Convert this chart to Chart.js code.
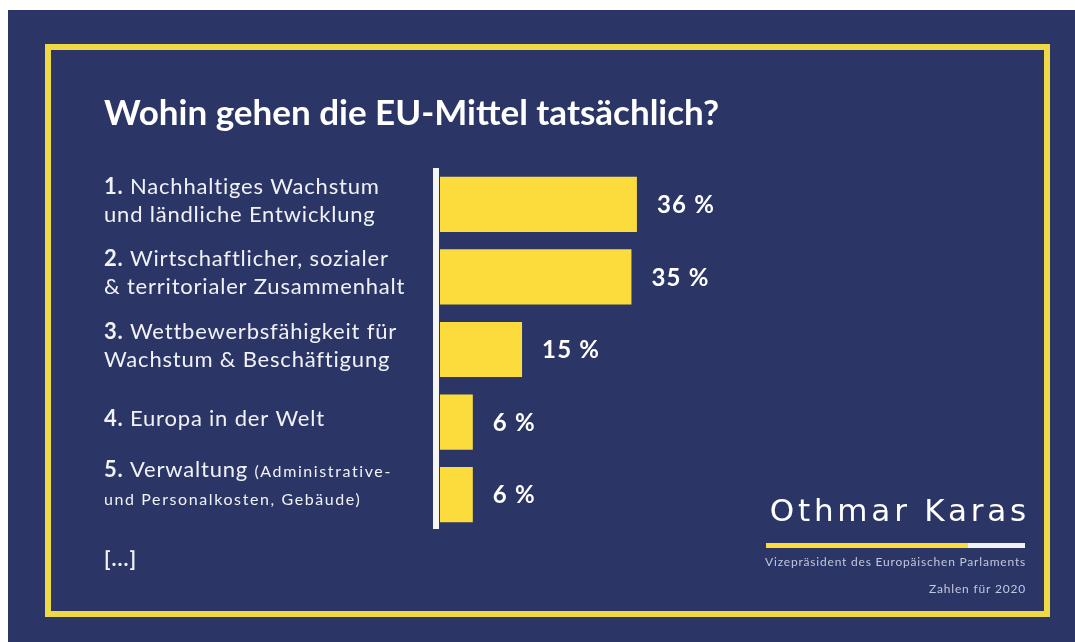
<!DOCTYPE html>
<html lang="de">
<head>
<meta charset="utf-8">
<title>Wohin gehen die EU-Mittel tatsächlich?</title>
<script src="https://cdn.jsdelivr.net/npm/chart.js@4.4.1/dist/chart.umd.min.js"></script>
<style>
  html, body { margin: 0; padding: 0; background: #ffffff; }
  #budget-chart { display: block; }
</style>
</head>
<body>
<canvas id="budget-chart" width="1075" height="642"></canvas>
<script>
'use strict';

// ***************** DATA ***************** //

const chartTitle = 'Wohin gehen die EU-Mittel tatsächlich?';

const categories = [
  ['1. Nachhaltiges Wachstum', 'und ländliche Entwicklung'],
  ['2. Wirtschaftlicher, sozialer', '& territorialer Zusammenhalt'],
  ['3. Wettbewerbsfähigkeit für', 'Wachstum & Beschäftigung'],
  ['4. Europa in der Welt'],
  ['5. Verwaltung (Administrative-', 'und Personalkosten, Gebäude)']
];

const shares = [36, 35, 15, 6, 6];

const moreNote = '[...]';
const signatureName = 'Othmar Karas';
const signatureRole = 'Vizepräsident des Europäischen Parlaments';
const sourceNote = 'Zahlen für 2020';

// ***************** COLOURS / FONTS ***************** //

const NAVY = '#2b3667';
const YELLOW = '#fcdb3d';
const FRAME = '#efd945';
const TEXT = '#f1f2f7';
const MUTED = '#c3c7dc';
const FONT = 'Lato, "Open Sans", sans-serif';

// ***************** HELPERS ***************** //

// one label line: "1." bold, anything inside (...) smaller
function drawLabelLine(ctx, line, x, y, state) {
  let rest = line;
  ctx.letterSpacing = '0.8px';
  const num = rest.match(/^\d+\.\s*/);
  if (num) {
    ctx.font = `bold 22px ${FONT}`;
    ctx.fillText(num[0].trim(), x, y);
    x += ctx.measureText(num[0].trim()).width;
    ctx.font = `22px ${FONT}`;
    x += ctx.measureText(' ').width;
    rest = rest.slice(num[0].length);
  }
  while (rest.length) {
    let cut;
    if (state.small) {
      cut = rest.indexOf(')');
      cut = cut < 0 ? rest.length : cut + 1;
    } else {
      cut = rest.indexOf('(');
      if (cut < 0) cut = rest.length;
    }
    const piece = rest.slice(0, cut);
    ctx.font = state.small ? `16px ${FONT}` : `22px ${FONT}`;
    ctx.letterSpacing = state.small ? '1.6px' : '0.8px';
    ctx.fillText(piece, x, y);
    x += ctx.measureText(piece).width;
    rest = rest.slice(cut);
    if (rest.startsWith('(')) state.small = true;
    else if (state.small && piece.endsWith(')')) state.small = false;
  }
}

// ***************** PLUGIN: FRAME AND TEXTS ***************** //

const posterPlugin = {
  id: 'poster',
  beforeDraw(chart) {
    const ctx = chart.ctx;
    ctx.save();
    ctx.fillStyle = '#ffffff';
    ctx.fillRect(0, 0, chart.width, chart.height);
    ctx.fillStyle = NAVY;
    ctx.fillRect(8, 10, chart.width - 8, chart.height - 10);
    ctx.strokeStyle = FRAME;
    ctx.lineWidth = 6;
    ctx.strokeRect(48, 47, 999, 567);
    ctx.restore();
  },
  afterDatasetsDraw(chart) {
    const ctx = chart.ctx;
    const area = chart.chartArea;
    const yScale = chart.scales.y;
    const meta = chart.getDatasetMeta(0);
    ctx.save();

    // title
    ctx.fillStyle = '#ffffff';
    ctx.textAlign = 'left';
    ctx.textBaseline = 'alphabetic';
    ctx.font = `bold 35px ${FONT}`;
    ctx.letterSpacing = '0px';
    ctx.fillText(chartTitle, 104, 125);

    // category labels, centred on each band
    ctx.fillStyle = TEXT;
    categories.forEach((lines, i) => {
      const c = yScale.getPixelForValue(i);
      const state = { small: false };
      const shift = lines.some(l => l.includes('(')) ? -7 : 0;
      lines.forEach((line, j) => {
        const base = c + 3.5 + shift + (j - (lines.length - 1) / 2) * 28;
        drawLabelLine(ctx, line, 104, base, state);
      });
    });
    ctx.font = `bold 21px ${FONT}`;
    ctx.letterSpacing = '1px';
    ctx.fillText(moreNote, 104, 566);

    // baseline of the bars
    ctx.fillStyle = '#f5f5f5';
    ctx.fillRect(area.left - 7, area.top, 6, area.bottom - area.top - 2);

    // value labels
    ctx.fillStyle = '#ffffff';
    ctx.font = `bold 24px ${FONT}`;
    ctx.letterSpacing = '1.2px';
    ctx.textBaseline = 'middle';
    meta.data.forEach((bar, i) => {
      ctx.fillText(`${shares[i]} %`, bar.x + 20, bar.y + 1);
    });

    // signature block
    ctx.textAlign = 'right';
    ctx.textBaseline = 'alphabetic';
    ctx.font = '31px "DejaVu Sans", sans-serif';
    ctx.letterSpacing = '3.8px';
    ctx.fillStyle = '#ffffff';
    ctx.fillText(signatureName, 1030, 521);
    ctx.fillStyle = YELLOW;
    ctx.fillRect(766, 543, 202, 5);
    ctx.fillStyle = '#f2f2f2';
    ctx.fillRect(968, 543, 57, 5);
    ctx.fillStyle = MUTED;
    ctx.font = `12px ${FONT}`;
    ctx.letterSpacing = '0.8px';
    ctx.fillText(signatureRole, 1026, 566);
    ctx.fillText(sourceNote, 1026, 593);

    ctx.restore();
  }
};

// ***************** CHART ***************** //

const ctx = document.getElementById('budget-chart').getContext('2d');

new Chart(ctx, {
  type: 'bar',
  data: {
    labels: categories,
    datasets: [{
      data: shares,
      backgroundColor: YELLOW,
      borderWidth: 0,
      barPercentage: 0.76,
      categoryPercentage: 1
    }]
  },
  options: {
    indexAxis: 'y',
    responsive: false,
    animation: false,
    events: [],
    layout: {
      padding: { left: 440, right: 88, top: 168, bottom: 111 }
    },
    scales: {
      x: { display: false, min: 0, max: 100 },
      y: { display: false }
    },
    plugins: {
      legend: { display: false },
      tooltip: { enabled: false },
      title: { display: false }
    }
  },
  plugins: [posterPlugin]
});
</script>
</body>
</html>
